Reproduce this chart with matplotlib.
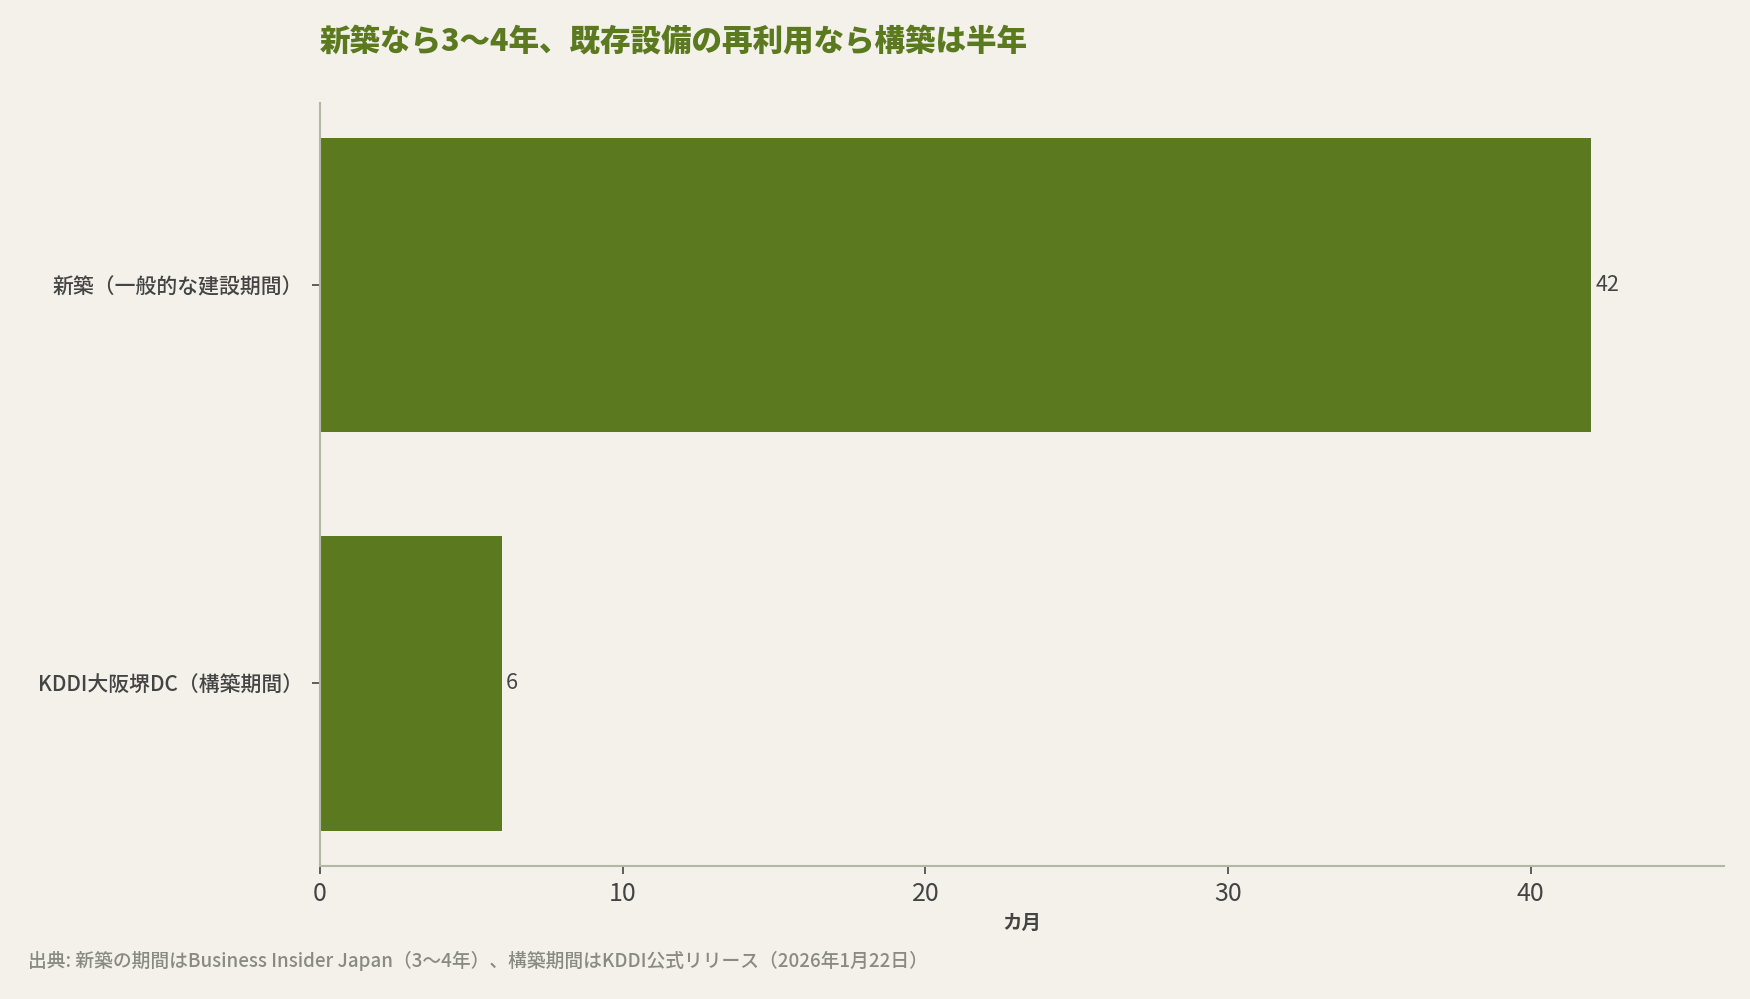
import matplotlib
matplotlib.use("Agg")
import matplotlib.pyplot as plt

plt.rcParams['font.family'] = ['Noto Sans CJK JP', 'DejaVu Sans']

# data
categories = ['新築（一般的な建設期間）', 'KDDI大阪堺DC（構築期間）']
months = [42, 6]

title = '新築なら3〜4年、既存設備の再利用なら構築は半年'
xlabel = 'カ月'
source = '出典: 新築の期間はBusiness Insider Japan（3〜4年）、構築期間はKDDI公式リリース（2026年1月22日）'

bg = '#f3f1ea'
green = '#5b7a1f'
text_col = '#444444'

fig = plt.figure(figsize=(17.5, 9.99), dpi=100, facecolor=bg)
ax = fig.add_axes([0.1829, 0.1336, 0.8025, 0.7633])
ax.set_facecolor(bg)

ypos = list(range(len(categories)))
bars = ax.barh(ypos, months, height=0.74, color=green)
ax.invert_yaxis()
ax.set_yticks(ypos)
ax.set_yticklabels(categories, fontsize=15, color=text_col, fontweight='medium')
ax.set_xlim(0, 46.4)
ax.set_xticks([0, 10, 20, 30, 40])
ax.tick_params(axis='x', labelsize=18, colors=text_col, length=6, width=1.2, pad=5)
ax.tick_params(axis='y', colors=text_col, length=6, width=1.2, pad=6)

for b, v in zip(bars, months):
    ax.text(b.get_width() + 0.15, b.get_y() + b.get_height() / 2, str(v),
            va='center', ha='left', fontsize=15.5, color=text_col)

for s in ['top', 'right']:
    ax.spines[s].set_visible(False)
for s in ['left', 'bottom']:
    ax.spines[s].set_color('#b3b8a6')
    ax.spines[s].set_linewidth(1.5)

ax.set_xlabel(xlabel, fontsize=14, fontweight='bold', color=text_col, labelpad=5)

fig.text(0.1829, 0.959, title, fontsize=22, fontweight='black', color=green,
         ha='left', va='center')
fig.text(0.016, 0.038, source, fontsize=13.5, color='#8a8a82', ha='left', va='center',
         fontweight='medium')

fig.savefig('out.png', dpi=100, facecolor=bg)
